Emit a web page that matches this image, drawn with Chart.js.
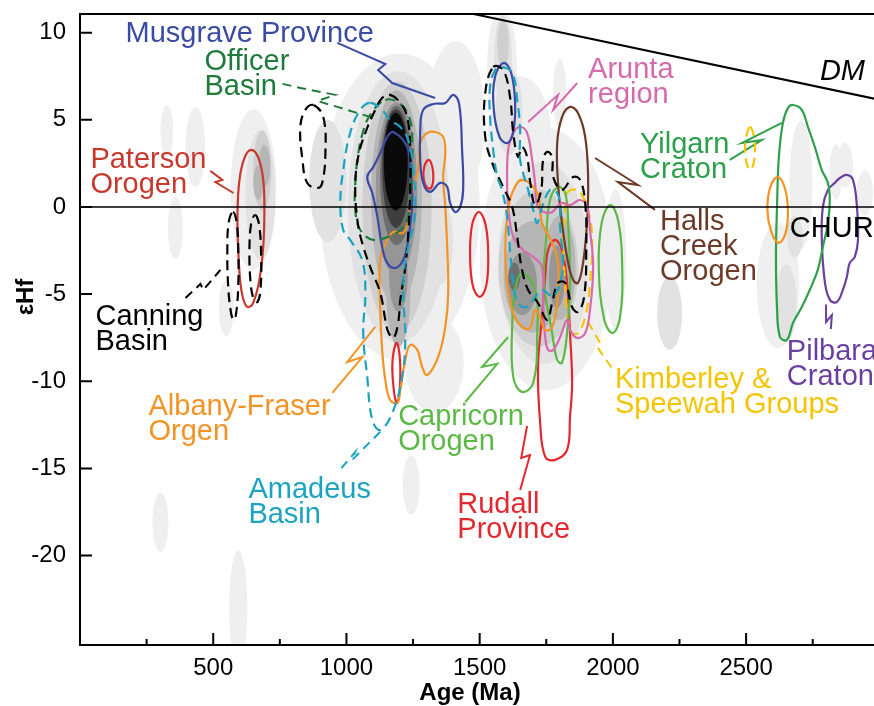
<!DOCTYPE html>
<html>
<head>
<meta charset="utf-8">
<script src="https://cdn.jsdelivr.net/npm/chart.js@4.4.0/dist/chart.umd.min.js"></script>
<style>
  body { margin: 0; background: #fff; }
  canvas { display: block; }
</style>
</head>
<body>
<canvas id="graficoHf" width="874" height="706"></canvas>
<script>
// Limites e ticks dos eixos
var idadeMin = 0;
var idadeMax = 2980;
var ehfMin = -25.13;
var ehfMax = 11.07;
var ticksIdade = [500, 1000, 1500, 2000, 2500];
var ticksIdadeMenores = [250, 750, 1250, 1750, 2250, 2750];
var ticksEhf = [-20, -15, -10, -5, 0, 5, 10];

// Linhas de referencia
var linhaChur = [[0, 0], [3000, 0]];
var linhaDM = [[1440, 11.19], [3000, 6.15]];

// Campo de densidade (elipses em cinza): idade, eHf, meia largura, meia altura, nivel
var densidadeIdade = [326, 433, 358, 549, 302, 594, 1243, 651, 677, 684, 692, 669,
  1584, 1588, 1588,
  1200, 1410, 1330, 930, 1350, 1195, 1190, 1188, 1195, 1188, 1195, 1188, 1186, 1185,
  1750, 1740, 1720, 1700, 1800, 1660, 1790, 1630, 1650, 1610, 1800,
  2010, 2213, 2706, 2837, 2946, 2620, 2650, 2683, 2871];
var densidadeEhf = [4.36, 3.44, -1.2, -5.8, -18.1, -23.0, -15.95, 1.0, 0.7, 2.1, 2.35, 1.4,
  8.0, 8.43, 9.3,
  0, 5.0, -9.0, 1.5, -2.0, 0, 0, 0.5, -5.0, 1.0, -4.0, 1.8, 2.2, 2.6,
  -3.0, -3.2, -3.5, -4.0, -3.5, -4.4, -4.0, -4.0, 4.0, 5.5, 6.5,
  -3.0, -6.1, 1.26, 2.0, 0.8, -4.5, -5.5, -1.7, 2.4];
var densidadeRaioIdade = [24, 37, 28, 28, 30, 34, 32, 86, 56, 34, 22, 19,
  56, 34, 22,
  300, 110, 110, 70, 50, 190, 130, 95, 45, 78, 35, 62, 52, 45,
  250, 170, 150, 110, 60, 55, 30, 22, 120, 50, 25,
  40, 47, 43, 24, 30, 80, 40, 30, 30];
var densidadeRaioEhf = [1.5, 2.3, 1.8, 1.6, 1.7, 3.3, 1.7, 4.6, 3.7, 2.3, 1.2, 1.0,
  3.5, 2.6, 1.4,
  8.8, 4.5, 2.8, 3.5, 2.5, 7.8, 7.2, 6.2, 3.0, 5.0, 2.0, 4.0, 3.4, 2.8,
  7.5, 5.8, 4.5, 3.2, 3.0, 1.8, 1.8, 0.8, 3.5, 2.5, 2.0,
  4.0, 2.1, 3.7, 1.6, 1.3, 3.6, 2.2, 1.2, 1.3];
var densidadeNivel = [1, 1, 1, 1, 1, 1, 1, 1, 2, 3, 4, 4,
  1, 2, 3,
  1, 1, 1, 2, 2, 2, 3, 4, 4, 5, 5, 6, 7, 8,
  1, 2, 3, 4, 4, 5, 5, 6, 1, 2, 1,
  1, 2, 1, 1, 1, 1, 2, 2, 1];
var tonsCinza = ["#efefef", "#e2e2e2", "#cfcfcf", "#b6b6b6", "#969696", "#6e6e6e", "#3e3e3e", "#0a0a0a"];

// Contornos (idade Ma, eHf)
var contornoPaterson = [[643, 3.27], [670, 2.8], [688, 1.5], [692, -0.2], [688, -2.2], [673, -4.2], [647, -5.6], [625, -5.7], [606, -4.8], [595, -2.8], [591, -0.5], [598, 1.5], [617, 2.8]];
var contornoCanning1 = [[574, -0.29], [588, -0.9], [594, -2.5], [594, -4.5], [586, -6.1], [577, -6.48], [567, -6.1], [556, -4.5], [553, -2.5], [558, -0.9]];
var contornoCanning2 = [[657, -0.46], [672, -1.0], [680, -2.9], [677, -4.8], [666, -5.45], [652, -5.3], [640, -4.3], [636, -2.5], [642, -1.0]];
var contornoCanning3 = [[876, 5.85], [913, 5.16], [921, 3.1], [909, 1.38], [891, 1.09], [853, 1.38], [835, 2.7], [827, 4.59], [846, 5.57]];
var contornoCanning4 = [[1164, 6.43], [1202, 5.97], [1228, 5.16], [1239, 3.44], [1239, 0.8], [1232, -1.49], [1221, -3.44], [1202, -5.34], [1194, -6.65], [1176, -7.52], [1157, -7.17], [1146, -6.48], [1127, -4.93], [1089, -3.44], [1059, -2.06], [1041, -0.75], [1033, 1.15], [1044, 2.87], [1071, 4.25], [1108, 5.57], [1134, 6.25]];
var contornoCanning5 = [[1551, 8.03], [1588, 7.86], [1614, 6.31], [1626, 4.25], [1644, 2.87], [1659, 3.44], [1678, 2.87], [1690, 1.38], [1708, 0.11], [1731, 0.98], [1738, 2.7], [1753, 3.16], [1772, 2.87], [1776, 1.72], [1809, 0.98], [1851, 1.72], [1877, 1.55], [1896, 0.23], [1900, -2.47], [1892, -5.16], [1869, -6.02], [1847, -5.74], [1821, -4.36], [1794, -4.36], [1772, -5.51], [1753, -6.48], [1719, -5.51], [1682, -4.76], [1659, -3.61], [1641, -1.72], [1622, 0], [1588, 1.15], [1547, 2.53], [1521, 4.02], [1521, 6.54]];
var contornoOfficer = [[1146, 6.14], [1202, 5.91], [1239, 4.99], [1247, 3.67], [1243, 1.55], [1232, -0.57], [1202, -1.32], [1164, -1.66], [1101, -1.89], [1052, -1.32], [1033, -0.17], [1033, 1.26], [1041, 2.7], [1059, 4.13], [1089, 5.28]];
var contornoMusgrave1 = [[1176, 4.3], [1228, 3.44], [1239, 2.12], [1247, 0.4], [1232, -1.89], [1213, -3.04], [1183, -3.5], [1153, -3.21], [1134, -2.29], [1116, -0.57], [1097, 0.8], [1078, 1.72], [1101, 2.3], [1127, 3.1], [1153, 4.02]];
var contornoMusgrave2 = [[1288, 5.57], [1326, 5.91], [1371, 5.97], [1401, 6.43], [1423, 5.91], [1434, 3.27], [1438, 0.98], [1427, 0], [1408, -0.29], [1389, 0.23], [1378, 1.15], [1352, 1.38], [1314, 0.86], [1288, 1.38], [1277, 2.7], [1277, 4.42]];
var contornoMusgrave3 = [[1590, 8.26], [1618, 7.7], [1633, 6.0], [1626, 4.3], [1604, 3.67], [1575, 4.0], [1553, 5.6], [1558, 7.5]];
var contornoAlbany1 = [[1333, 4.3], [1363, 4.02], [1371, 3.1], [1363, 1.72], [1371, 0], [1378, -2.29], [1382, -4.93], [1371, -6.88], [1344, -8.61], [1303, -9.64], [1284, -9.18], [1266, -8.2], [1239, -7.92], [1221, -8.78], [1202, -10.5], [1191, -11.24], [1164, -11.07], [1146, -9.93], [1134, -8.2], [1127, -5.91], [1127, -3.04], [1153, -1.89], [1176, -1.43], [1213, -1.49], [1232, -0.75], [1247, 0.8], [1269, 2.12], [1277, 3.67], [1303, 4.25]];
var contornoAlbany2 = [[1659, 1.55], [1716, 0.8], [1734, -0.92], [1772, -2.06], [1794, -3.21], [1791, -5.51], [1772, -6.88], [1746, -7.06], [1727, -6.31], [1708, -5.91], [1689, -6.94], [1659, -6.88], [1626, -6.08], [1603, -4.36], [1596, -2.47], [1603, -0.57], [1622, 0.8]];
var contornoAlbany3 = [[2618, 1.72], [2645, 1.1], [2657, -0.2], [2648, -1.5], [2622, -2.06], [2594, -1.4], [2580, -0.2], [2590, 1.1]];
var contornoRudall1 = [[1309, 2.7], [1322, 2.3], [1326, 1.6], [1318, 1.1], [1303, 1.1], [1290, 1.6], [1292, 2.3]];
var contornoRudall2 = [[1189, -7.8], [1200, -8.6], [1202, -9.8], [1196, -11.0], [1187, -11.2], [1177, -10.4], [1172, -9.2], [1177, -8.3]];
var contornoRudall3 = [[1497, -0.29], [1522, -1.0], [1532, -2.7], [1525, -4.5], [1500, -5.16], [1474, -4.5], [1464, -2.7], [1472, -1.0]];
var contornoRudall4 = [[1783, -1.89], [1809, -2.47], [1828, -4.36], [1839, -7.23], [1847, -10.1], [1839, -12.05], [1828, -13.94], [1783, -14.51], [1746, -14.34], [1727, -12.39], [1719, -9.18], [1734, -6.31], [1746, -4.02], [1757, -2.47]];
var contornoCapricorn1 = [[1659, -3.79], [1708, -4.76], [1716, -7.23], [1701, -10.1], [1659, -10.61], [1626, -9.75], [1622, -6.88], [1633, -4.76]];
var contornoCapricorn2 = [[1794, 1.15], [1821, 0.8], [1832, -0.92], [1839, -4.36], [1828, -7.23], [1809, -8.95], [1791, -8.78], [1772, -7.23], [1742, -4.36], [1750, -1.72], [1764, 0.4]];
var contornoCapricorn3 = [[1990, 0.11], [2020, -0.8], [2035, -3.5], [2027, -6.3], [2000, -7.23], [1968, -6.5], [1947, -3.5], [1958, -0.9]];
var contornoAmadeus1 = [[1089, 5.97], [1134, 5.57], [1164, 4.99], [1202, 4.59], [1232, 3.84], [1251, 2.12], [1258, -0.17], [1239, -1.89], [1221, -3.04], [1213, -4.93], [1221, -7.46], [1209, -9.75], [1172, -11.82], [1127, -12.79], [1097, -12.22], [1078, -9.75], [1063, -7.23], [1071, -4.93], [1059, -3.04], [1014, -1.89], [988, -1.32], [977, 0.23], [988, 2.12], [1014, 4.25], [1052, 5.57]];
var contornoAmadeus2 = [[1584, 8.03], [1622, 7.69], [1641, 6.14], [1652, 4.42], [1652, 2.7], [1682, 0.98], [1701, -0.17], [1716, -0.92], [1734, 0], [1764, 0.98], [1791, 0.8], [1802, 0], [1802, -1.15], [1813, -3.21], [1802, -4.36], [1776, -5.16], [1753, -4.93], [1734, -4.76], [1708, -5.16], [1678, -5.74], [1644, -5.51], [1626, -4.36], [1614, -2.47], [1603, -0.57], [1584, 0.98], [1566, 1.72], [1551, 3.27], [1539, 5.16], [1539, 6.88], [1558, 7.86]];
var contornoArunta = [[1652, 4.59], [1678, 4.25], [1697, 2.7], [1708, 1.38], [1719, 0], [1764, -0.34], [1791, 0], [1809, 0.23], [1839, 0.11], [1877, 0.4], [1903, 0], [1914, -1.32], [1926, -3.44], [1914, -5.91], [1896, -7.23], [1866, -7.52], [1839, -7.06], [1828, -6.48], [1802, -7.46], [1776, -8.2], [1757, -8.2], [1746, -7.46], [1738, -5.51], [1734, -3.44], [1701, -2.87], [1663, -2.47], [1626, -1.72], [1607, 0], [1603, 1.55], [1607, 3.27], [1626, 4.25]];
var contornoHalls = [[1839, 5.74], [1869, 5.39], [1896, 4.02], [1907, 1.72], [1903, -0.92], [1888, -3.21], [1869, -4.36], [1851, -4.19], [1832, -3.21], [1809, -0.92], [1794, 1.38], [1791, 3.67], [1809, 5.16]];
var contornoKimberley1 = [[1828, 0.8], [1866, 0.98], [1888, 0.57], [1907, -0.17], [1922, -1.72], [1914, -4.36], [1896, -6.31], [1869, -7.23], [1847, -7.23], [1828, -6.08], [1821, -4.36], [1813, -2.06], [1821, -0.17]];
var contornoKimberley2 = [[2515, 4.59], [2530, 4.0], [2533, 3.3], [2528, 2.5], [2515, 2.12], [2502, 2.5], [2496, 3.3], [2500, 4.0]];
var contornoYilgarn = [[2676, 5.85], [2709, 5.57], [2732, 4.59], [2758, 3.44], [2784, 2.12], [2807, 1.38], [2814, 0.4], [2807, -0.92], [2788, -2.29], [2769, -3.61], [2739, -4.76], [2709, -5.74], [2676, -6.65], [2653, -7.63], [2627, -7.46], [2616, -5.74], [2612, -2.87], [2616, 0], [2623, 2.87], [2638, 4.82], [2657, 5.68]];
var contornoPilbara = [[2878, 1.84], [2901, 1.55], [2916, 0], [2920, -1.89], [2908, -2.87], [2889, -3.21], [2878, -4.02], [2863, -4.76], [2841, -5.45], [2815, -5.34], [2796, -4.36], [2784, -1.89], [2788, 0], [2807, 0.98], [2833, 1.38], [2852, 1.66]];

// Linhas de chamada dos rotulos
var guiaPaterson = [[489, 2.07], [534, 1.55], [508, 1.43], [576, 0.8]];
var guiaCanning = [[396, -5.22], [452, -4.42], [463, -4.76], [527, -3.61]];
var guiaOfficer = [[760, 7.06], [827, 6.83], [958, 6.43], [891, 6.08], [966, 5.74], [1101, 5.11]];
var guiaMusgrave = [[966, 9.41], [1146, 8.2], [1119, 7.86], [1172, 7.11], [1333, 6.25]];
var guiaAlbany = [[1108, -6.88], [1003, -8.89], [1060, -8.61], [947, -10.67]];
var guiaAmadeus = [[1127, -12.9], [1022, -14.5], [1033, -14.06], [969, -15.2]];
var guiaCapricorn = [[1607, -7.46], [1509, -9.18], [1566, -9.0], [1446, -11.19]];
var guiaRudall = [[1678, -12.56], [1656, -14.4], [1689, -14.23], [1652, -16.24]];
var guiaArunta = [[1682, 4.88], [1794, 6.43], [1776, 5.57], [1866, 7.11]];
var guiaHalls = [[1933, 2.81], [2094, 1.26], [2019, 1.43], [2158, -0.17]];
var guiaKimberley = [[1907, -6.6], [1952, -7.8], [1941, -8.03], [2001, -9.35]];
var guiaYilgarn = [[2634, 4.82], [2484, 3.67], [2559, 3.84], [2439, 2.7]];
var guiaPilbara = [[2800, -5.6], [2800, -6.6], [2822, -6.2], [2818, -7.0]];

// Cores
var corPreto = "#000000";
var corAzul = "#3b4ba3";
var corVerdeEscuro = "#1f7a3b";
var corVermelhoPaterson = "#c8392d";
var corVermelho = "#e2292f";
var corRosa = "#d56aae";
var corVerde = "#2ca04a";
var corVerdeClaro = "#5cb946";
var corMarrom = "#6b3a28";
var corLaranja = "#f39324";
var corAmarelo = "#f5c400";
var corRoxo = "#6b3f9f";
var corCiano = "#1ba3c1";

var rotulos = [
  { texto: ["Musgrave Province"], idade: 171, ehf: 9.47, cor: corAzul },
  { texto: ["Officer", "Basin"], idade: 467, ehf: 7.86, cor: corVerdeEscuro },
  { texto: ["Paterson", "Orogen"], idade: 39, ehf: 2.24, cor: corVermelhoPaterson },
  { texto: ["Arunta", "region"], idade: 1907, ehf: 7.4, cor: corRosa },
  { texto: ["DM"], idade: 2777, ehf: 7.29, cor: corPreto, italico: true },
  { texto: ["Yilgarn", "Craton"], idade: 2102, ehf: 3.1, cor: corVerde },
  { texto: ["Halls", "Creek", "Orogen"], idade: 2177, ehf: -1.32, cor: corMarrom },
  { texto: ["CHUR"], idade: 2664, ehf: -1.72, cor: corPreto },
  { texto: ["Canning", "Basin"], idade: 58, ehf: -6.77, cor: corPreto },
  { texto: ["Albany-Fraser", "Orgen"], idade: 257, ehf: -11.93, cor: corLaranja },
  { texto: ["Capricorn", "Orogen"], idade: 1194, ehf: -12.51, cor: corVerdeClaro },
  { texto: ["Kimberley &", "Speewah Groups"], idade: 2008, ehf: -10.38, cor: corAmarelo },
  { texto: ["Pilbara", "Craton"], idade: 2653, ehf: -8.78, cor: corRoxo },
  { texto: ["Amadeus", "Basin"], idade: 632, ehf: -16.7, cor: corCiano },
  { texto: ["Rudall", "Province"], idade: 1416, ehf: -17.56, cor: corVermelho }
];

var familia = '"Liberation Sans", Arial, Helvetica, sans-serif';

function pontos(lista) {
  return lista.map(function (p) {
    return { x: p[0], y: p[1] };
  });
}

// Contorno fechado e suavizado
function contorno(lista, cor, tracejado) {
  return {
    data: pontos(lista),
    fechado: true,
    showLine: true,
    borderColor: cor,
    borderWidth: 2.2,
    borderDash: tracejado ? [10, 6] : [],
    pointRadius: 0,
    pointHitRadius: 0,
    tension: 0.4,
    fill: false,
  };
}

// Linha reta (chamada ou referencia)
function guia(lista, cor, tracejado, largura) {
  return {
    data: pontos(lista),
    showLine: true,
    borderColor: cor,
    borderWidth: largura || 2,
    borderDash: tracejado ? [9, 6] : [],
    pointRadius: 0,
    pointHitRadius: 0,
    tension: 0,
    fill: false,
  };
}

var datasets = [
  guia(linhaChur, corPreto, false, 1.5),
  guia(linhaDM, corPreto, false, 2),
  contorno(contornoAmadeus1, corCiano, true),
  contorno(contornoAmadeus2, corCiano, true),
  contorno(contornoCanning1, corPreto, true),
  contorno(contornoCanning2, corPreto, true),
  contorno(contornoCanning3, corPreto, true),
  contorno(contornoCanning4, corPreto, true),
  contorno(contornoCanning5, corPreto, true),
  contorno(contornoOfficer, corVerdeEscuro, true),
  contorno(contornoMusgrave1, corAzul, false),
  contorno(contornoMusgrave2, corAzul, false),
  contorno(contornoMusgrave3, corAzul, false),
  contorno(contornoAlbany1, corLaranja, false),
  contorno(contornoAlbany2, corLaranja, false),
  contorno(contornoAlbany3, corLaranja, false),
  contorno(contornoArunta, corRosa, false),
  contorno(contornoHalls, corMarrom, false),
  contorno(contornoCapricorn1, corVerdeClaro, false),
  contorno(contornoCapricorn2, corVerdeClaro, false),
  contorno(contornoCapricorn3, corVerdeClaro, false),
  contorno(contornoKimberley1, corAmarelo, true),
  contorno(contornoKimberley2, corAmarelo, true),
  contorno(contornoRudall1, corVermelho, false),
  contorno(contornoRudall2, corVermelho, false),
  contorno(contornoRudall3, corVermelho, false),
  contorno(contornoRudall4, corVermelho, false),
  contorno(contornoPaterson, corVermelhoPaterson, false),
  contorno(contornoYilgarn, corVerde, false),
  contorno(contornoPilbara, corRoxo, false),
  guia(guiaPaterson, corVermelhoPaterson, false),
  guia(guiaCanning, corPreto, true),
  guia(guiaOfficer, corVerdeEscuro, true),
  guia(guiaMusgrave, corAzul, false),
  guia(guiaAlbany, corLaranja, false),
  guia(guiaAmadeus, corCiano, true),
  guia(guiaCapricorn, corVerdeClaro, false),
  guia(guiaRudall, corVermelho, false),
  guia(guiaArunta, corRosa, false),
  guia(guiaHalls, corMarrom, false),
  guia(guiaKimberley, corAmarelo, true),
  guia(guiaYilgarn, corVerde, false),
  guia(guiaPilbara, corRoxo, false),
];

// Fecha os contornos (liga o ultimo ponto ao primeiro com curva suave)
var pluginFechar = {
  id: "fechar",
  afterDatasetUpdate(chart, args) {
    if (chart.data.datasets[args.index].fechado && args.meta.dataset) {
      args.meta.dataset._loop = true;
      args.meta.dataset._fullLoop = true;
    }
  },
};

// Campo de densidade em tons de cinza
var pluginDensidade = {
  id: "densidade",
  beforeDatasetsDraw(chart) {
    var ctx = chart.ctx;
    var area = chart.chartArea;
    var x = chart.scales.x;
    var y = chart.scales.y;
    ctx.save();
    ctx.beginPath();
    ctx.rect(area.left, area.top, area.right - area.left, area.bottom - area.top);
    ctx.clip();
    for (var nivel = 1; nivel <= tonsCinza.length; nivel++) {
      for (var i = 0; i < densidadeNivel.length; i++) {
        if (densidadeNivel[i] != nivel) continue;
        var cx = x.getPixelForValue(densidadeIdade[i]);
        var cy = y.getPixelForValue(densidadeEhf[i]);
        var rx = Math.abs(x.getPixelForValue(densidadeIdade[i] + densidadeRaioIdade[i]) - cx);
        var ry = Math.abs(y.getPixelForValue(densidadeEhf[i] + densidadeRaioEhf[i]) - cy);
        ctx.fillStyle = tonsCinza[nivel - 1];
        ctx.beginPath();
        ctx.ellipse(cx, cy, rx, ry, 0, 0, Math.PI * 2);
        ctx.fill();
      }
    }
    ctx.restore();
  },
};

// Moldura, ticks internos e rotulos
var pluginMoldura = {
  id: "moldura",
  afterDatasetsDraw(chart) {
    var ctx = chart.ctx;
    var a = chart.chartArea;
    var x = chart.scales.x;
    var y = chart.scales.y;

    ctx.save();
    ctx.strokeStyle = corPreto;
    ctx.lineWidth = 2;
    ctx.beginPath();
    ctx.moveTo(a.left - 1, a.top);
    ctx.lineTo(a.right, a.top);
    ctx.moveTo(a.left, a.top);
    ctx.lineTo(a.left, a.bottom);
    ctx.moveTo(a.left - 1, a.bottom);
    ctx.lineTo(a.right, a.bottom);
    ticksEhf.forEach(function (v) {
      var py = y.getPixelForValue(v);
      ctx.moveTo(a.left, py);
      ctx.lineTo(a.left + 12, py);
    });
    ticksIdade.forEach(function (v) {
      var px = x.getPixelForValue(v);
      ctx.moveTo(px, a.bottom);
      ctx.lineTo(px, a.bottom - 12);
    });
    ticksIdadeMenores.forEach(function (v) {
      var px = x.getPixelForValue(v);
      ctx.moveTo(px, a.bottom);
      ctx.lineTo(px, a.bottom - 6);
    });
    ctx.stroke();

    ctx.textBaseline = "alphabetic";
    ctx.textAlign = "left";
    rotulos.forEach(function (r) {
      ctx.font = (r.italico ? "italic " : "") + "29px " + familia;
      ctx.fillStyle = r.cor;
      var px = x.getPixelForValue(r.idade);
      var py = y.getPixelForValue(r.ehf);
      r.texto.forEach(function (linha, i) {
        ctx.fillText(linha, px, py + i * 25);
      });
    });
    ctx.restore();
  },
  afterDraw(chart) {
    var ctx = chart.ctx;
    ctx.save();
    ctx.fillStyle = corPreto;
    ctx.font = "bold 24px " + familia;
    ctx.textAlign = "center";
    ctx.textBaseline = "alphabetic";
    ctx.fillText("Age (Ma)", 470, 700);
    ctx.translate(33, 297);
    ctx.rotate(-Math.PI / 2);
    ctx.fillText("εHf", 0, 0);
    ctx.restore();
  },
};

var ctx = document.getElementById("graficoHf").getContext("2d");

new Chart(ctx, {
  type: "scatter",
  data: { datasets: datasets },
  plugins: [pluginFechar, pluginDensidade, pluginMoldura],
  options: {
    responsive: false,
    animation: false,
    events: [],
    layout: { padding: { top: 14, right: 0, bottom: 0, left: 0 } },
    plugins: {
      legend: { display: false },
      tooltip: { enabled: false },
    },
    scales: {
      x: {
        type: "linear",
        min: idadeMin,
        max: idadeMax,
        grid: { display: false, drawTicks: false },
        border: { display: true, color: corPreto, width: 2 },
        afterBuildTicks: function (eixo) {
          eixo.ticks = ticksIdade.map(function (v) { return { value: v }; });
        },
        afterFit: function (eixo) {
          eixo.height = 61;
          eixo.paddingLeft = 0;
          eixo.paddingRight = 0;
        },
        ticks: {
          color: corPreto,
          font: { family: familia, size: 24 },
          padding: 9,
          maxRotation: 0,
          autoSkip: false,
          callback: function (v) { return String(v); },
        },
      },
      y: {
        type: "linear",
        min: ehfMin,
        max: ehfMax,
        grid: { display: false, drawTicks: false },
        border: { display: true, color: corPreto, width: 2 },
        afterBuildTicks: function (eixo) {
          eixo.ticks = ticksEhf.map(function (v) { return { value: v }; });
        },
        afterFit: function (eixo) {
          eixo.width = 80;
          eixo.paddingTop = 0;
          eixo.paddingBottom = 0;
        },
        ticks: {
          color: corPreto,
          font: { family: familia, size: 24 },
          padding: 14,
          autoSkip: false,
          callback: function (v) { return String(v); },
        },
      },
    },
  },
});
</script>
</body>
</html>
